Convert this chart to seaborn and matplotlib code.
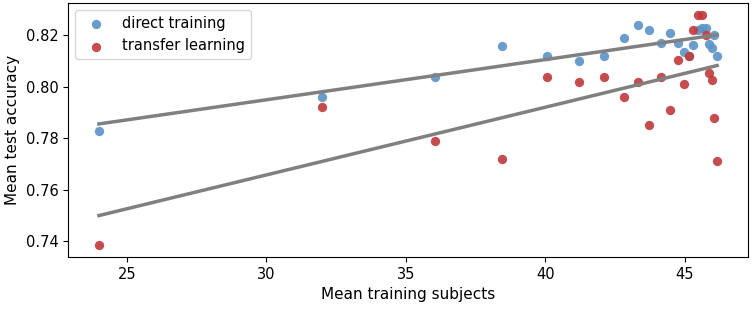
import matplotlib
matplotlib.use("Agg")
import matplotlib.pyplot as plt
import seaborn as sns
import numpy as np

mean_subjects = [24, 32, 36.05, 38.45, 40.05, 41.2, 42.1, 42.8, 43.3, 43.7, 44.15,
                 44.45, 44.75, 44.95, 45.15, 45.3, 45.45, 45.6, 45.75, 45.85, 45.95,
                 46.05, 46.15]
direct_acc = [0.783, 0.796, 0.804, 0.816, 0.812, 0.810, 0.812, 0.819, 0.824, 0.822,
              0.817, 0.821, 0.817, 0.8135, 0.812, 0.8164, 0.822, 0.823, 0.823,
              0.8168, 0.8151, 0.8203, 0.812]
transfer_acc = [0.7384, 0.792, 0.7788, 0.7721, 0.804, 0.802, 0.804, 0.796, 0.802,
                0.785, 0.804, 0.791, 0.8103, 0.801, 0.812, 0.8222, 0.8281, 0.8281,
                0.8203, 0.8052, 0.8027, 0.7881, 0.7712]

plt.rcParams['font.family'] = ['DejaVu Sans']
fig = plt.figure(figsize=(7.52, 3.12), dpi=100)
ax = fig.add_axes([68/752, 1 - 257/312, (748-68)/752, (257-3)/312])

sns.regplot(x=np.array(mean_subjects), y=np.array(direct_acc), ci=None, ax=ax,
            label='direct training',
            scatter_kws={'color': '#5b93c7', 's': 45, 'alpha': 0.9, 'linewidths': 0},
            line_kws={'color': 'gray', 'lw': 2.5})
sns.regplot(x=np.array(mean_subjects), y=np.array(transfer_acc), ci=None, ax=ax,
            label='transfer learning',
            scatter_kws={'color': '#c03a3c', 's': 45, 'alpha': 0.9, 'linewidths': 0},
            line_kws={'color': 'gray', 'lw': 2.5})

ax.set_xticks([25, 30, 35, 40, 45])
ax.set_yticks([0.74, 0.76, 0.78, 0.80, 0.82])
ax.set_yticklabels(['0.74', '0.76', '0.78', '0.80', '0.82'])
ax.tick_params(labelsize=10.5)
ax.set_xlabel('Mean training subjects', fontsize=11)
ax.set_ylabel('Mean test accuracy', fontsize=11)
handles, labels = ax.get_legend_handles_labels()
pairs = [(h, l) for h, l in zip(handles, labels) if l in ('direct training', 'transfer learning')]
ax.legend([p[0] for p in pairs], [p[1] for p in pairs], loc='upper left', fontsize=10.5)

fig.savefig('out.png', dpi=100)
